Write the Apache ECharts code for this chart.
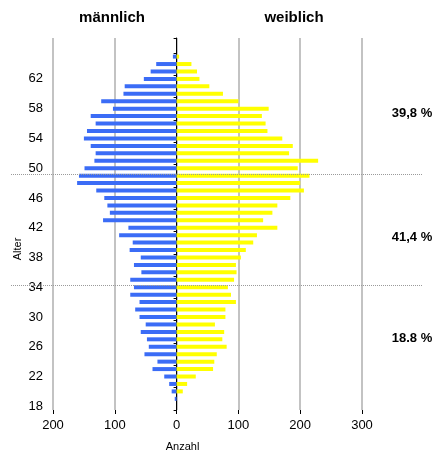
<!DOCTYPE html>
<html><head><meta charset="utf-8">
<script src="https://cdn.jsdelivr.net/npm/echarts@6/dist/echarts.min.js"></script>
<style>html,body{margin:0;padding:0;background:#fff}#c{width:436px;height:457px}</style>
</head><body><div id="c"></div>
<script>
const ages = ['18','19','20','21','22','23','24','25','26','27','28','29','30','31','32','33','34','35','36','37','38','39','40','41','42','43','44','45','46','47','48','49','50','51','52','53','54','55','56','57','58','59','60','61','62','63','64','65','66','67'];
const maennlich = [0,3,8,12,20,39,31,52,45,48,58,50,60,67,60,75,69,75,57,69,58,76,71,93,78,119,108,112,117,130,161,158,149,133,131,139,150,145,131,139,103,122,86,84,53,42,33,6,null,null];
const weiblich = [0,0,10,17,31,59,61,65,81,74,77,62,79,79,96,88,83,93,97,96,104,112,124,130,163,140,155,163,184,206,200,215,196,229,182,188,171,147,144,138,149,100,75,53,37,33,24,4,null,null];
const xTicks = [-200,-100,0,100,200,300];
const groupLines = ['34','49'];
const groupTexts = ['39,8 %','41,4 %','18.8 %'];
const titles = ['männlich','weiblich'];

const font = 'Liberation Sans, Arial, sans-serif';
const chart = echarts.init(document.getElementById('c'));
chart.setOption({
  animation:false,
  grid:{left:53,right:74,top:38,bottom:47,containLabel:false},
  xAxis:{type:'value',min:xTicks[0],max:xTicks[xTicks.length-1],interval:100,
    axisLine:{onZero:false,lineStyle:{color:'#000',width:1}},
    axisTick:{show:true,length:4,lineStyle:{color:'#000'}},
    axisLabel:{formatter:v=>String(Math.abs(v)),fontFamily:font,fontSize:13,color:'#000',margin:9},
    splitLine:{show:true,lineStyle:{color:'#b4b4b4',width:1.6}}},
  yAxis:[
    {type:'category',data:ages,position:'left',
     axisLine:{show:false,onZero:false},axisTick:{show:false},
     axisLabel:{interval:3,fontFamily:font,fontSize:13,color:'#000',margin:10,
       formatter:v=>(+v>65?'':v)},
     splitLine:{show:false}},
    {type:'category',data:ages,position:'left',
     axisLine:{show:true,onZero:true,lineStyle:{color:'#000',width:1}},
     axisTick:{show:true,length:3,lineStyle:{color:'#000'}},
     axisLabel:{show:false},splitLine:{show:false}}
  ],
  series:[
    {name:'männlich',type:'bar',stack:'a',yAxisIndex:0,barWidth:4,
     data:maennlich.map(v=>v==null?null:-v),itemStyle:{color:'#3b6cf6'}},
    {name:'weiblich',type:'bar',stack:'a',yAxisIndex:0,barWidth:4,
     data:weiblich,itemStyle:{color:'#ffff00'}}
  ]
});

const g = [];
groupLines.forEach(a=>{
  const y = Math.round(chart.convertToPixel({yAxisIndex:0},a))-1.5;
  g.push({type:'line',shape:{x1:11,y1:y,x2:423,y2:y},
    style:{stroke:'#9a9a9a',lineWidth:1,lineDash:[1,1]},z:100});
});
const x0 = chart.convertToPixel({xAxisIndex:0},0);
const ty = [113,237,338];
groupTexts.forEach((t,i)=>{
  g.push({type:'text',x:412,y:ty[i],style:{text:t,fontFamily:font,fontWeight:'bold',fontSize:13,fill:'#000',align:'center',verticalAlign:'middle'}});
});
g.push({type:'text',x:112,y:18,style:{text:titles[0],fontFamily:font,fontWeight:'bold',fontSize:15,fill:'#000',align:'center',verticalAlign:'middle'}});
g.push({type:'text',x:294,y:18,style:{text:titles[1],fontFamily:font,fontWeight:'bold',fontSize:15,fill:'#000',align:'center',verticalAlign:'middle'}});
g.push({type:'text',x:x0+6,y:447,style:{text:'Anzahl',fontFamily:font,fontSize:11,fill:'#000',align:'center',verticalAlign:'middle'}});
g.push({type:'text',x:18,y:249,rotation:Math.PI/2,style:{text:'Alter',fontFamily:font,fontSize:11,fill:'#000',align:'center',verticalAlign:'middle'}});
chart.setOption({graphic:g});
</script></body></html>
